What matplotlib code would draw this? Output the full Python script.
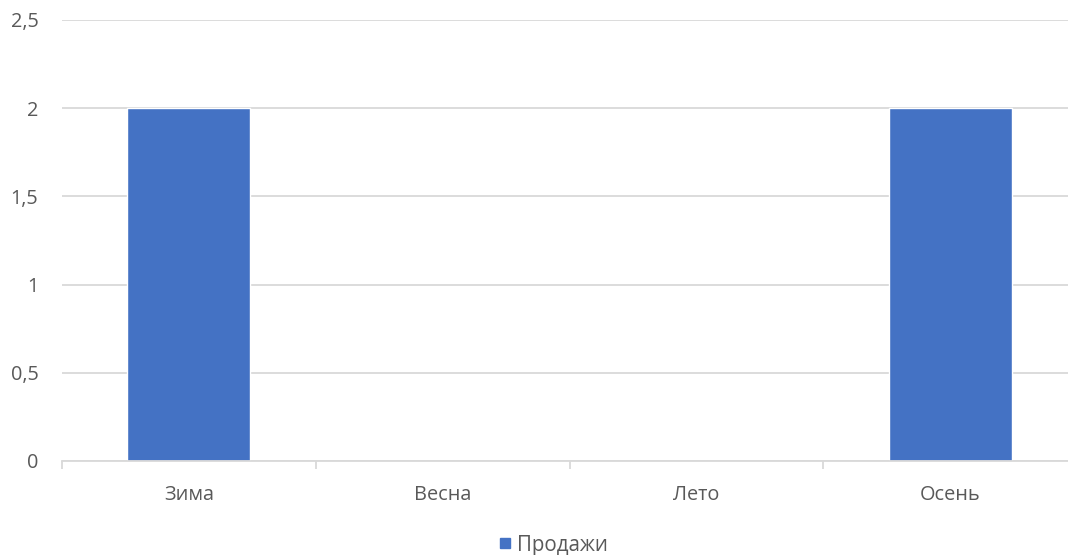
import matplotlib.pyplot as plt
from matplotlib.lines import Line2D
import numpy as np

seasons = ["Зима", "Весна", "Лето", "Осень"]
sales = [2, 0, 0, 2]
y_ticks = [0, 0.5, 1, 1.5, 2, 2.5]
y_labels = ["0", "0,5", "1", "1,5", "2", "2,5"]

plt.rcParams["font.family"] = ["Open Sans", "DejaVu Sans"]
text_color = "#595959"
grid_color = "#d9d9d9"
bar_color = "#4472c4"

fig = plt.figure(figsize=(10.68, 5.55), dpi=100)
ax = fig.add_axes([62 / 1068, 1 - 461 / 555, 1015 / 1068, 441 / 555])

x = np.arange(len(seasons))
ax.bar(x, sales, width=0.485, color=bar_color, edgecolor="white",
       linewidth=1, zorder=3)

ax.set_xlim(-0.5, len(seasons) - 0.5)
ax.set_ylim(0, 2.5)
ax.set_yticks(y_ticks)
ax.set_yticklabels(y_labels)
ax.yaxis.grid(True, color=grid_color, linewidth=1.3, zorder=0)

# category labels centred, tick marks between categories
ax.set_xticks(x)
ax.set_xticklabels(seasons)
ax.set_xticks(np.arange(-0.5, len(seasons)), minor=True)
ax.tick_params(axis="x", which="major", length=0, pad=17,
               labelsize=14.3, labelcolor=text_color)
ax.tick_params(axis="x", which="minor", length=6, width=1.3,
               color=grid_color)
ax.tick_params(axis="y", length=0, pad=17, labelsize=14.3,
               labelcolor=text_color)

for side in ["top", "right", "left"]:
    ax.spines[side].set_visible(False)
ax.spines["bottom"].set_color(grid_color)
ax.spines["bottom"].set_linewidth(1.3)
ax.spines["bottom"].set_zorder(4)

handle = Line2D([], [], marker="s", linestyle="none", markersize=6.5,
                markerfacecolor=bar_color, markeredgecolor=bar_color)
fig.legend([handle], ["Продажи"], loc="center",
           bbox_to_anchor=(554 / 1068, 1 - 545 / 555), frameon=False,
           fontsize=14.8, labelcolor=text_color, handlelength=0.5,
           handletextpad=0.35)

plt.savefig("out.png", dpi=100)
